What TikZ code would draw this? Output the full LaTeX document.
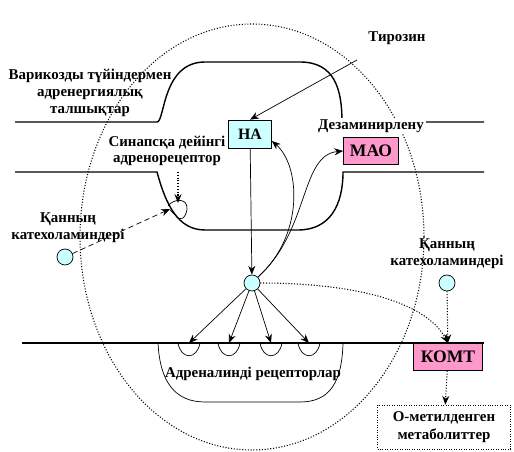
\documentclass[tikz,border=0pt]{standalone}
\usepackage{fontspec}
\setmainfont{Liberation Serif}
\usetikzlibrary{arrows.meta, positioning}
\definecolor{cellcyan}{HTML}{CCFFFF}
\definecolor{enzpink}{HTML}{FF99CC}

\begin{document}
\begin{tikzpicture}[x=0.02cm, y=-0.02cm,
    lbl/.style={font=\fontsize{8.5}{9.5}\selectfont\bfseries, align=center, inner sep=1pt},
    membrane/.style={draw=black, line width=0.8pt},
    cleft/.style={draw=black, densely dotted, line width=0.6pt},
    transmitter/.style={rectangle, draw=black, fill=cellcyan, minimum width=0.86cm,
        minimum height=0.56cm, font=\fontsize{9}{10}\selectfont\bfseries},
    enzyme/.style={rectangle, draw=black, fill=enzpink, minimum height=0.54cm,
        font=\fontsize{10}{11}\selectfont\bfseries},
    product/.style={rectangle, draw=black, densely dotted, fill=white, minimum width=2.66cm,
        minimum height=0.88cm, align=center, font=\fontsize{8.5}{10}\selectfont\bfseries},
    molecule/.style={circle, draw=black, fill=cellcyan, minimum size=0.32cm, inner sep=0pt},
    flow/.style={-{Stealth[length=5pt,width=4pt]}, thin},
    dotflow/.style={-{Stealth[length=5pt,width=4pt]}, line width=0.6pt, densely dotted}
]
\useasboundingbox (0,0) rectangle (514,452);

% --- Жасуша шекарасы ---
\draw[cleft] (252,237) ellipse [x radius=172, y radius=213];

% --- Варикоздық талшық ---
\draw[membrane] (15,122) -- (157,122) .. controls (165,122) and (162,62) .. (205,62)
    -- (300,62) .. controls (335,62) and (342,90) .. (342,122) -- (484,122);
\draw[membrane] (15,172) -- (157,172) .. controls (166,205) and (178,230) .. (205,230)
    -- (298,230) .. controls (330,230) and (343,205) .. (343,172) -- (484,172);

% --- Синапсқа дейінгі рецептор ---
\coordinate (presyn) at (170,209);
\draw[thin] (168,206) .. controls (174,198) and (188,198) .. (187,209)
    .. controls (186,218) and (180,222) .. (176,216) -- (170,210);
\coordinate (presyntop) at (178,172);

% --- Постсинапстық мембрана ---
\draw[membrane] (22,343) -- (484,343);
\draw[thin] (158,343) .. controls (160,382) and (175,402) .. (205,402)
    -- (300,402) .. controls (330,402) and (342,382) .. (343,343);
\foreach \cx [count=\i] in {189,229,271,309} {
    \draw[thin] (\cx-11,343) .. controls (\cx-8,360) and (\cx+8,360) .. (\cx+11,343);
    \coordinate (rec\i) at (\cx,343);
}

% --- Түйіндер ---
\node[transmitter] (na) at (250,134) {НА};
\node[enzyme, minimum width=1.1cm] (mao) at (371,151) {МАО};
\node[enzyme, minimum width=1.38cm] (komt) at (448,357) {КОМТ};
\node[product] (metab) at (444,427) {О-метилденген\\метаболиттер};

\node[molecule] (nacirc) at (252,283) {};
\node[molecule] (bloodL) at (65,257) {};
\node[molecule] (bloodR) at (447,283) {};

% --- Жазулар ---
\node[lbl] (fiberlbl) at (90,93) {Варикозды түйіндермен\\адренергиялық\\талшықтар};
\node[lbl] (tyrlbl) at (397,38) {Тирозин};
\coordinate (tyrstart) at (357,60);
\node[lbl, fill=white] (deamlbl) at (371,126) {Дезаминирлену};
\node[lbl] (presynlbl) at (167,151) {Синапсқа дейінгі\\адренорецептор};
\node[lbl] (bloodLlbl) at (68,228) {Қанның\\катехоламиндері};
\node[lbl] (bloodRlbl) at (447,254) {Қанның\\катехоламиндері};
\node[lbl] (reclbl) at (253,374) {Адреналинді рецепторлар};

% --- Байланыстар ---
\draw[flow] (tyrstart) -- (na.north);
\draw[flow] (na) -- (nacirc);
\foreach \i in {1,...,4}
    \draw[flow] (nacirc) -- (rec\i);
\draw[flow] (nacirc.north east) .. controls (305,235) and (300,165) .. ([yshift=-4pt]na.east);
\draw[flow] (nacirc.north east) .. controls (310,230) and (300,155) .. (mao.west);
\draw[dotflow] (nacirc.east) .. controls (350,283) and (425,300) .. (komt.north);
\draw[dotflow] (bloodR) -- (komt);
\draw[dotflow] (komt) -- (metab);
\draw[dotflow] (presyntop) -- (178,203);
\draw[flow, densely dashed] (bloodL) -- (presyn);

\end{tikzpicture}
\end{document}
